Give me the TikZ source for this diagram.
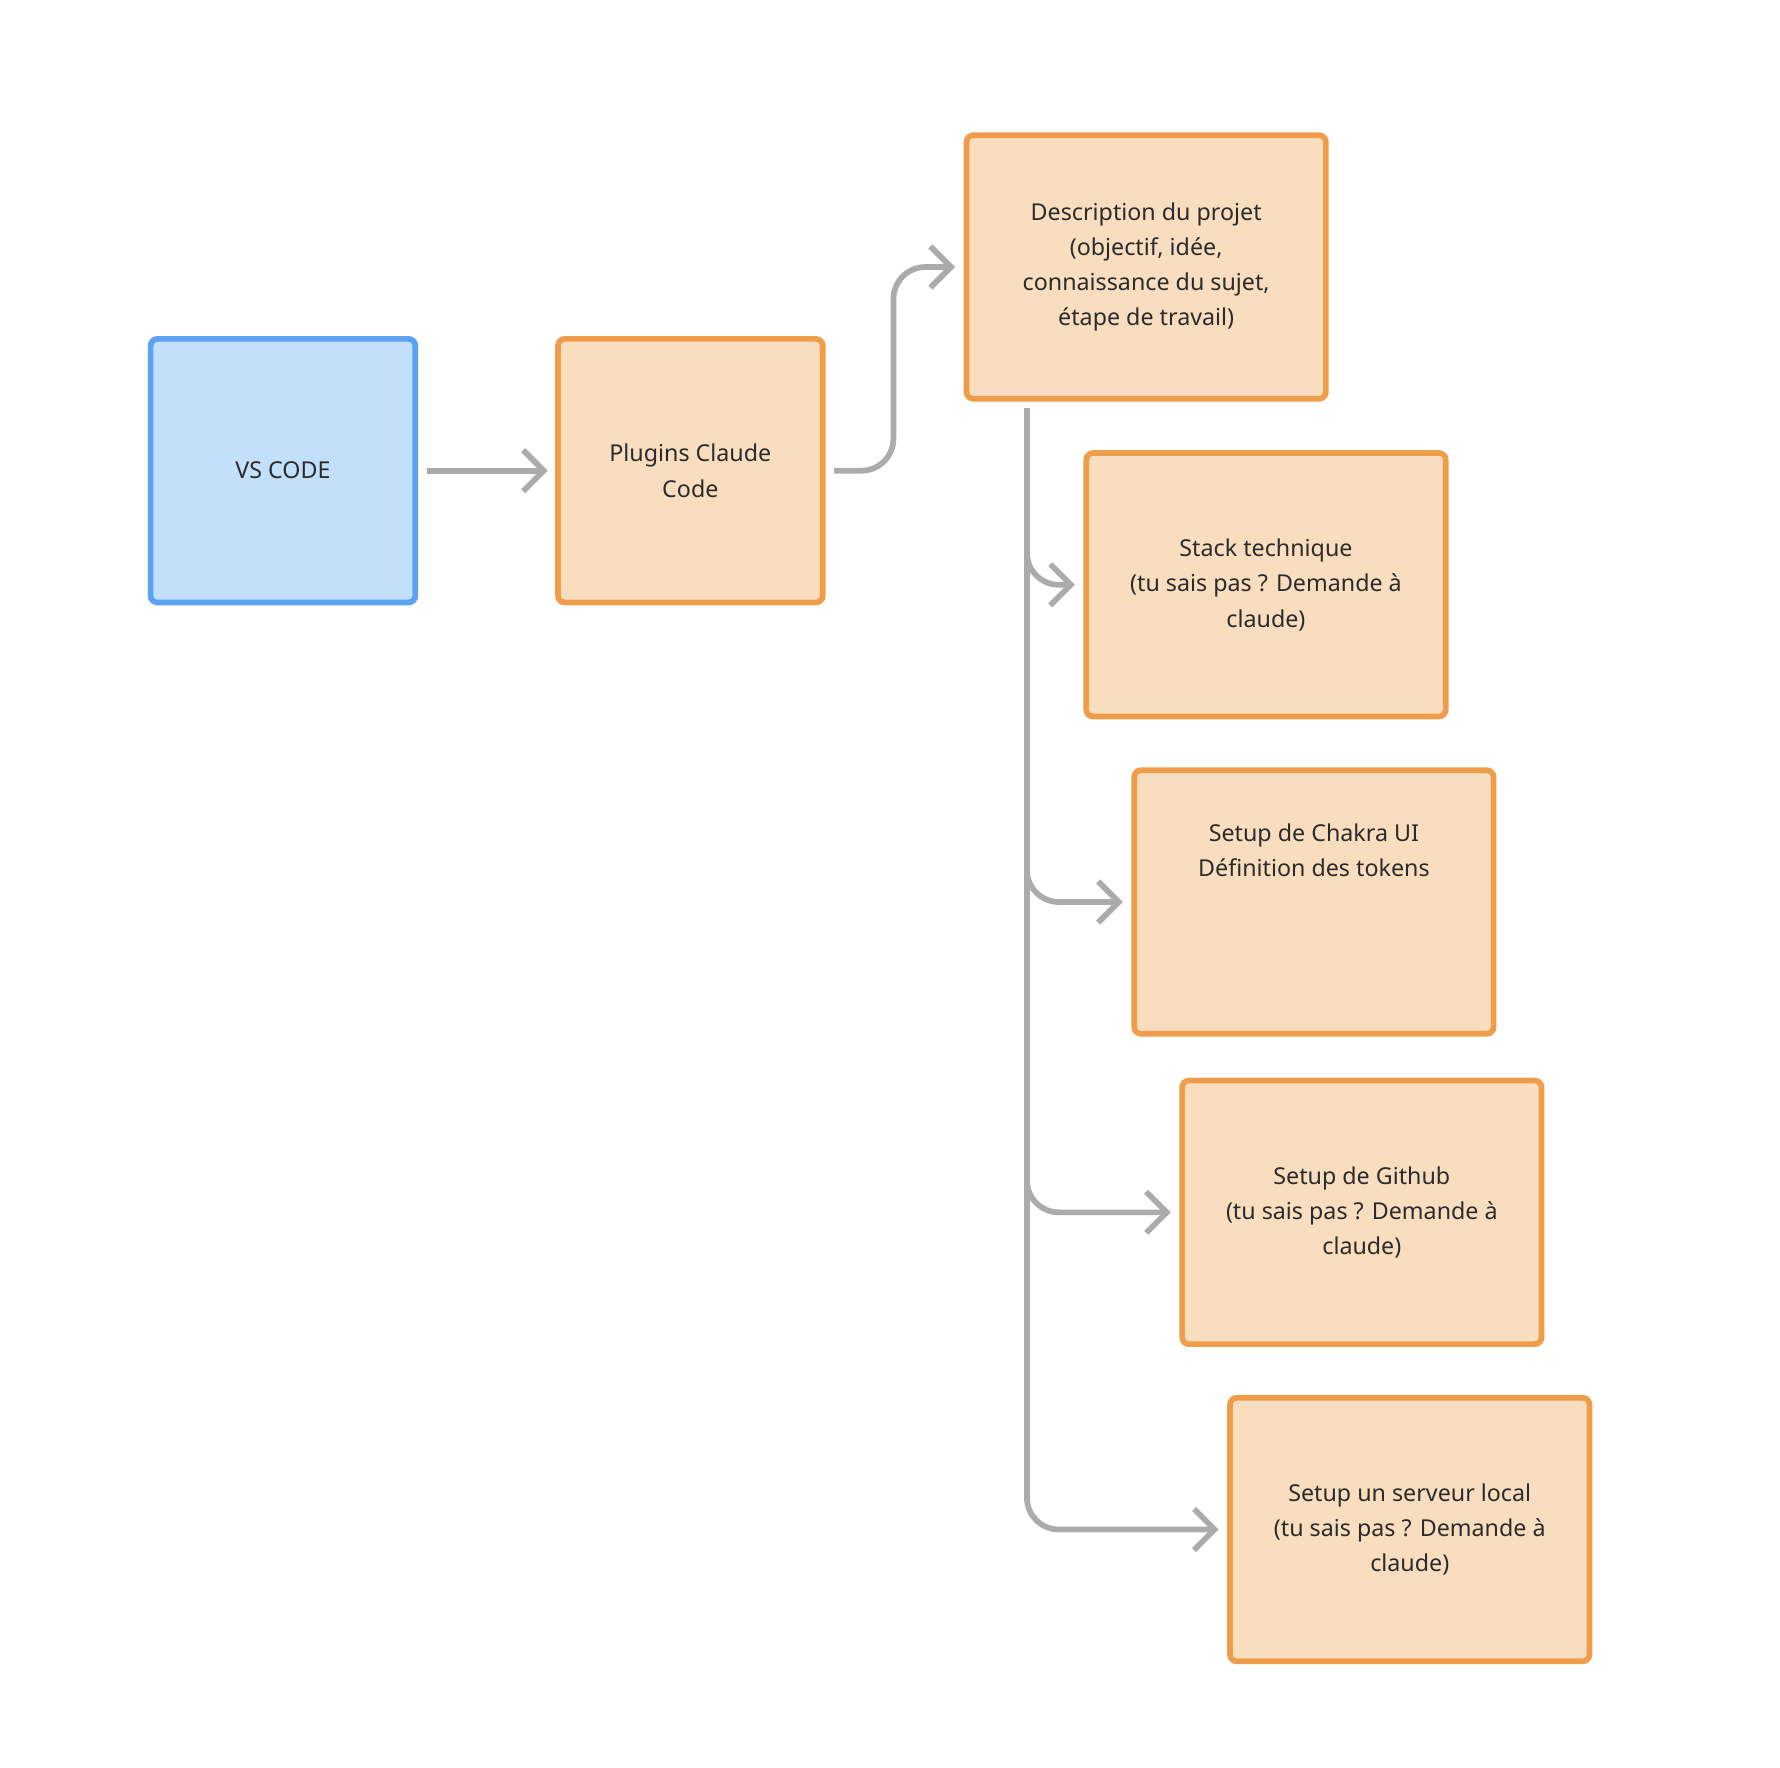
\documentclass[tikz,border=0pt]{standalone}
\usepackage{fontspec}
\setmainfont{Noto Sans}
\usetikzlibrary{arrows.meta}
\definecolor{ofill}{HTML}{F9DDBF}
\definecolor{odraw}{HTML}{EF9D4B}
\definecolor{bfill}{HTML}{C3E0FB}
\definecolor{bdraw}{HTML}{5BA3F2}
\definecolor{ink}{HTML}{2B2B2B}
\definecolor{gr}{HTML}{ABABAB}
\begin{document}
\begin{tikzpicture}[x=0.05cm,y=-0.05cm,
 box/.style={draw=odraw,fill=ofill,line width=0.25cm,rounded corners=0.3cm,inner sep=0,outer sep=0,
   minimum width=15.75cm,minimum height=11.55cm,align=center,text=ink,font=\fontsize{29}{44}\selectfont},
 arr/.style={draw=gr,line width=0.25cm,rounded corners=1.4cm,-{Straight Barb[length=0.9cm,width=1.8cm]}}]
\useasboundingbox (0,0) rectangle (1560,1549);
\node[box,draw=bdraw,fill=bfill,minimum width=11.6cm] (vs) at (248,412.5) {VS CODE};
\node[box,minimum width=11.6cm] (pl) at (605,412.5) {Plugins Claude\\Code};
\node[box] (desc) at (1004.5,234) {\textbf{Description du projet}\\(objectif, idée,\\connaissance du sujet,\\étape de travail)};
\node[box] (st) at (1109.5,512.5) {\textbf{Stack technique}\\(tu sais pas ? Demande à\\claude)};
\node[box] (ch) at (1151.5,790.5) {\textbf{Setup de Chakra UI}\\Définition des tokens\\[3cm]};
\node[box] (gh) at (1193.5,1062.5) {\textbf{Setup de Github}\\(tu sais pas ? Demande à\\claude)};
\node[box] (sv) at (1235.5,1340.5) {\textbf{Setup un serveur local}\\(tu sais pas ? Demande à\\claude)};
\coordinate (t) at (900,358);
\coordinate (k) at (783,412.5);
\draw[arr,shorten <=0.5cm,shorten >=0.45cm] (vs.east) -- (pl.west);
\draw[arr,shorten <=0.5cm,shorten >=0.5cm] (pl.east) -- (k) |- (desc.west);
\draw[arr,shorten >=0.5cm] (t) |- (st.west);
\draw[arr,shorten >=0.5cm] (t) |- (ch.west);
\draw[arr,shorten >=0.5cm] (t) |- (gh.west);
\draw[arr,shorten >=0.5cm] (t) |- (sv.west);
\end{tikzpicture}
\end{document}
